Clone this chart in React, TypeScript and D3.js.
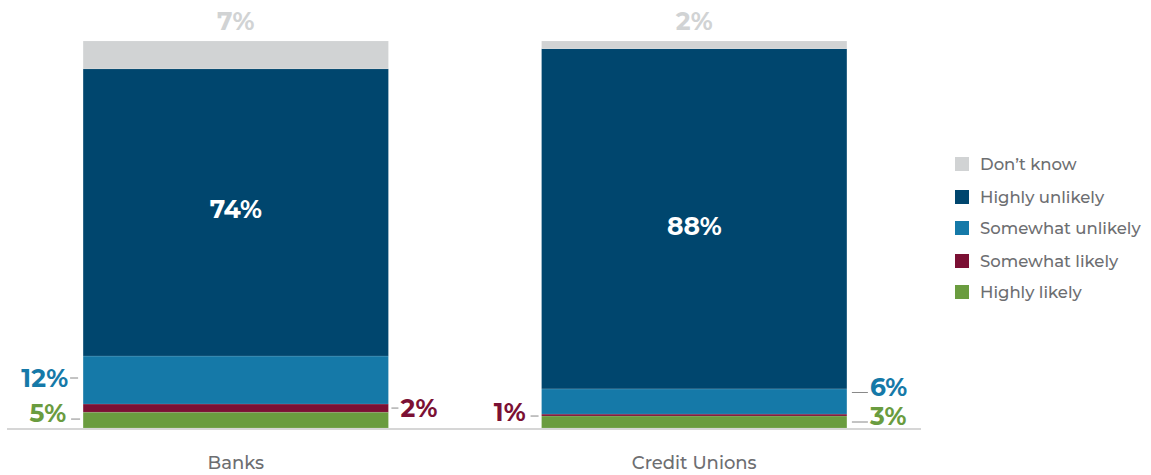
import React from 'react'
import * as d3 from 'd3'

// data
const categories = ['Banks', 'Credit Unions']
const seriesNames = ['Highly likely', 'Somewhat likely', 'Somewhat unlikely', 'Highly unlikely', "Don't know"]
const banksValues = [4.1, 2.1, 12.4, 74.2, 7.2]
const creditUnionValues = [3.1, 0.5, 6.5, 87.9, 2.0]
const banksLabels = ['5%', '2%', '12%', '74%', '7%']
const creditUnionLabels = ['3%', '1%', '6%', '88%', '2%']
const legendOrder = ["Don't know", 'Highly unlikely', 'Somewhat unlikely', 'Somewhat likely', 'Highly likely']

const colors: Record<string, string> = {
  'Highly likely': '#6a9c3f',
  'Somewhat likely': '#7b1034',
  'Somewhat unlikely': '#1579a8',
  'Highly unlikely': '#00466e',
  "Don't know": '#d1d3d4',
}

// label layout: side, text offset from segment middle, tick span and tick offset from text, text gap
type Place = { side: 'in' | 'top' | 'left' | 'right'; dy: number; tick?: [number, number]; tickDy?: number; gap?: number }
const banksPlaces: Place[] = [
  { side: 'left', dy: -7, tick: [-12, -3], tickDy: 6, gap: 5 },
  { side: 'right', dy: 0, tick: [3, 10], tickDy: 0, gap: 2 },
  { side: 'left', dy: -2, tick: [-13, -5], tickDy: 0, gap: 2 },
  { side: 'in', dy: -3 },
  { side: 'top', dy: 0 },
]
const creditPlaces: Place[] = [
  { side: 'right', dy: -6, tick: [5, 21], tickDy: 6, gap: 2 },
  { side: 'left', dy: -3, tick: [-11, -3], tickDy: 4, gap: 5 },
  { side: 'right', dy: -14, tick: [5, 21], tickDy: 5, gap: 2 },
  { side: 'in', dy: 7 },
  { side: 'top', dy: 0 },
]

const font = "'Montserrat', 'DejaVu Sans', sans-serif"

const App = () => {
  const width = 1151
  const height = 475
  const x = d3.scaleBand<string>().domain(categories).range([7, 923]).paddingInner(0.334).paddingOuter(0.166)
  const y = d3.scaleLinear().domain([0, 100]).range([428, 41])

  const rows = [banksValues, creditUnionValues]
  const labels = [banksLabels, creditUnionLabels]
  const places = [banksPlaces, creditPlaces]

  return (
    <svg width={width} height={height} style={{ position: 'absolute', left: 0, top: 0 }}>
      {categories.map((cat, ci) => {
        const x0 = x(cat) as number
        const bw = x.bandwidth()
        const stacked = d3.stack<number[]>().keys(seriesNames.map((_, i) => String(i))).value((d, k) => d[+k])([rows[ci]])
        return (
          <g key={cat}>
            {stacked.map((s, si) => {
              const [a, b] = s[0]
              return (
                <rect
                  key={si}
                  x={x0}
                  y={y(b)}
                  width={bw}
                  height={y(a) - y(b)}
                  fill={colors[seriesNames[si]]}
                  stroke="rgba(255,255,255,0.25)"
                  strokeWidth={0.5}
                />
              )
            })}
            {stacked.map((s, si) => {
              const [a, b] = s[0]
              const mid = (y(a) + y(b)) / 2
              const p = places[ci][si]
              const col = colors[seriesNames[si]]
              const yy = mid + p.dy
              if (p.side === 'in') {
                return (
                  <text key={'l' + si} x={x0 + bw / 2} y={yy} textAnchor="middle" dominantBaseline="central"
                    fill="#fff" fontSize={25} fontWeight="bold" fontFamily={font}>{labels[ci][si]}</text>
                )
              }
              if (p.side === 'top') {
                return (
                  <text key={'l' + si} x={x0 + bw / 2} y={y(b) - 20} textAnchor="middle" dominantBaseline="central"
                    fill="#d1d3d4" fontSize={25} fontWeight="bold" fontFamily={font}>{labels[ci][si]}</text>
                )
              }
              const edge = p.side === 'left' ? x0 : x0 + bw
              const tick = p.tick as [number, number]
              const ty = yy + (p.tickDy ?? 0)
              const tx = p.side === 'left' ? edge + tick[0] - (p.gap ?? 2) : edge + tick[1] + (p.gap ?? 2)
              return (
                <g key={'l' + si}>
                  <line x1={edge + tick[0]} x2={edge + tick[1]} y1={ty} y2={ty} stroke="#888" strokeWidth={1} />
                  <text x={tx} y={yy} textAnchor={p.side === 'left' ? 'end' : 'start'} dominantBaseline="central"
                    fill={col} fontSize={25} fontWeight="bold" fontFamily={font}>{labels[ci][si]}</text>
                </g>
              )
            })}
            <text x={x0 + bw / 2} y={463} textAnchor="middle" dominantBaseline="central" fill="#6d6e71"
              fontSize={18} fontWeight={500} fontFamily={font}>{cat}</text>
          </g>
        )
      })}
      <line x1={7} x2={921} y1={429} y2={429} stroke="#d6d6d6" strokeWidth={2} />
      {legendOrder.map((name, i) => {
        const ly = [164, 197, 228, 261, 292][i]
        return (
          <g key={name}>
            <rect x={955} y={ly - 7} width={14} height={14} fill={colors[name]} />
            <text x={980} y={ly} dominantBaseline="central" fill="#6d6e71" fontSize={16.5} fontWeight={500} fontFamily={font}>
              {name.replace("'", '\u2019')}
            </text>
          </g>
        )
      })}
    </svg>
  )
}

export default App
